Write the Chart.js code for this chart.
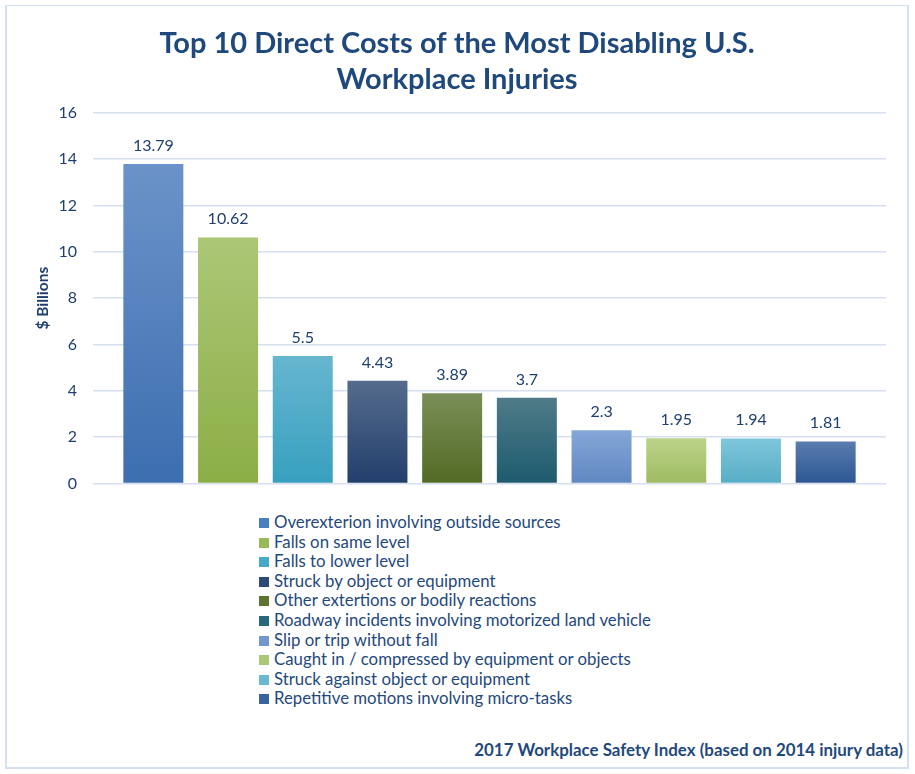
<!DOCTYPE html>
<html>
<head>
<meta charset="utf-8">
<script src="https://cdn.jsdelivr.net/npm/chart.js@4"></script>
<style>
  body { margin: 0; background: #fff; font-family: Lato, "Open Sans", sans-serif; }
  #frame {
    position: absolute; left: 5px; top: 5px; width: 900px; height: 761px;
    border: 2px solid #D5E1F2; border-top-width: 1px;
  }
  #wrap { position: absolute; left: 0; top: 0; width: 915px; height: 509px; }
  #legend {
    position: absolute; left: 259px; top: 512px; margin: 0; padding: 0; list-style: none;
    color: #1F497D; font-size: 16.8px; line-height: 19.6px;
  }
  #legend li { white-space: nowrap; }
  #legend span.box { display: inline-block; width: 10px; height: 10px; margin-right: 5px; vertical-align: 0px; }
  #footer {
    position: absolute; right: 12px; top: 739px; color: #1F497D;
    font-size: 16.9px; font-weight: bold;
  }
</style>
</head>
<body>
<div id="frame"></div>
<div id="wrap"><canvas id="chart" width="915" height="509"></canvas></div>
<ul id="legend"></ul>
<div id="footer">2017 Workplace Safety Index (based on 2014 injury data)</div>
<script>
const categories = [
  "Overexterion involving outside sources",
  "Falls on same level",
  "Falls to lower level",
  "Struck by object or equipment",
  "Other extertions or bodily reactions",
  "Roadway incidents involving motorized land vehicle",
  "Slip or trip without fall",
  "Caught in / compressed by equipment or objects",
  "Struck against object or equipment",
  "Repetitive motions involving micro-tasks"
];
const costs = [13.79, 10.62, 5.5, 4.43, 3.89, 3.7, 2.3, 1.95, 1.94, 1.81];
const topColors = ["#6B93C9", "#ABC776", "#67B6D0", "#546B8C", "#7A8F57", "#4F7B88", "#85A7D8", "#BBD38A", "#7FC6DA", "#5B7DAE"];
const bottomColors = ["#3D6EB0", "#8CAE46", "#37A0BE", "#223F6C", "#536A25", "#1D5B6E", "#5F87C1", "#9EBB62", "#57ADC6", "#2B5792"];
const legendColors = ["#4A7EBF", "#97B957", "#45AAC6", "#2E4A76", "#5E7431", "#286878", "#7097CE", "#ABC778", "#69B9CF", "#3A639E"];
const yTicks = [0, 2, 4, 6, 8, 10, 12, 14, 16];

const textColor = "#1F3F70";

function barFill(i) {
  return ctx => {
    const chart = ctx.chart;
    if (!chart.chartArea) return bottomColors[i];
    const y = chart.scales.y;
    const top = y.getPixelForValue(costs[i]);
    const bottom = y.getPixelForValue(0);
    const g = chart.ctx.createLinearGradient(0, top, 0, bottom);
    g.addColorStop(0, topColors[i]);
    g.addColorStop(1, bottomColors[i]);
    return g;
  };
}

const valueLabels = {
  id: "valueLabels",
  afterDatasetsDraw(chart) {
    const c = chart.ctx;
    c.save();
    c.font = "16px Lato";
    c.fillStyle = textColor;
    c.textAlign = "center";
    c.textBaseline = "alphabetic";
    chart.data.datasets.forEach((ds, i) => {
      const bar = chart.getDatasetMeta(i).data[0];
      c.fillText(String(ds.data[0]), bar.x, bar.y - 13);
    });
    c.restore();
  }
};

new Chart(document.getElementById("chart"), {
  type: "bar",
  data: {
    labels: [""],
    datasets: categories.map((name, i) => ({
      label: name,
      data: [costs[i]],
      backgroundColor: barFill(i),
      barPercentage: 0.803,
      categoryPercentage: 0.942
    }))
  },
  options: {
    responsive: false,
    animation: false,
    layout: { padding: { left: 28, right: 29, top: 12, bottom: 7 } },
    plugins: {
      legend: { display: false },
      tooltip: { enabled: false },
      title: {
        display: true,
        text: ["Top 10 Direct Costs of the Most Disabling U.S.", "Workplace Injuries"],
        color: "#1F497D",
        font: { family: "Lato", size: 29, weight: "bold", lineHeight: 1.24 },
        padding: { top: 14, bottom: 15 }
      }
    },
    scales: {
      x: { display: false },
      y: {
        min: 0,
        max: 16,
        afterBuildTicks: scale => { scale.ticks = yTicks.map(v => ({ value: v })); },
        afterFit: scale => { scale.width = 65; },
        border: { display: false },
        grid: { color: "#D5E0F0", lineWidth: 1.5, drawTicks: false },
        ticks: { color: textColor, padding: 16, font: { family: "Lato", size: 16 } },
        title: {
          display: true,
          text: "$ Billions",
          color: textColor,
          font: { family: "Lato", size: 15.5, weight: "bold" },
          padding: { top: 6, bottom: 0 }
        }
      }
    }
  },
  plugins: [valueLabels]
});

const legend = document.getElementById("legend");
categories.forEach((name, i) => {
  const li = document.createElement("li");
  li.innerHTML = `<span class="box" style="background:${legendColors[i]}"></span>${name}`;
  legend.appendChild(li);
});
</script>
</body>
</html>
